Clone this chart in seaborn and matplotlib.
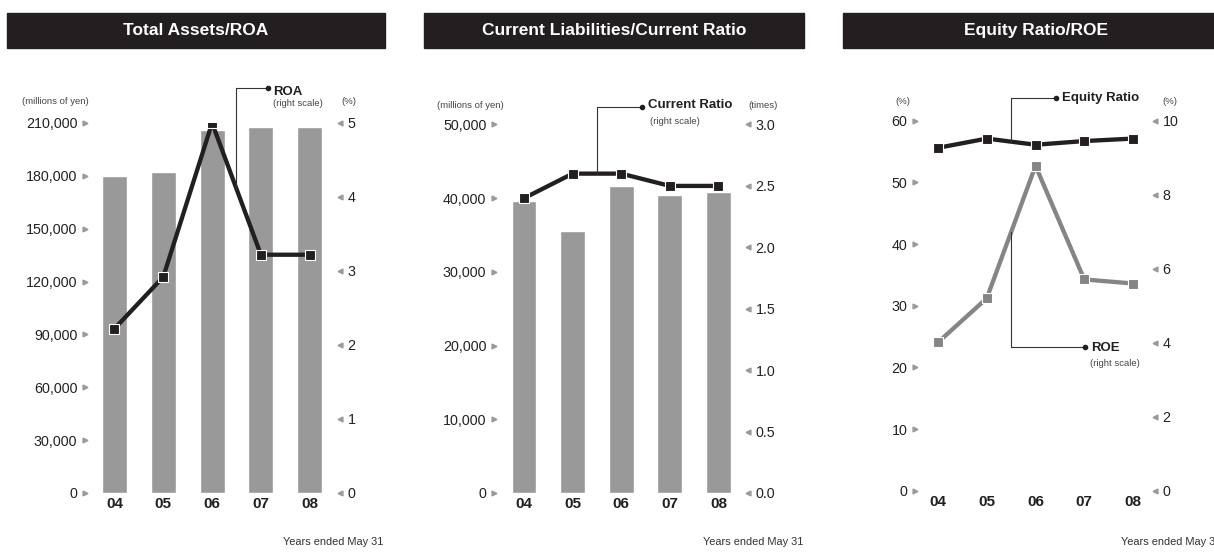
import numpy as np
import pandas as pd
import matplotlib
matplotlib.use("Agg")
import matplotlib.pyplot as plt
from matplotlib.patches import Rectangle
import seaborn as sns

years = ["04", "05", "06", "07", "08"]
total_assets = [180000, 182400, 206000, 207900, 207900]
roa = [2.22, 2.92, 5.0, 3.22, 3.22]
current_liab = [39600, 35600, 41700, 40500, 40800]
current_ratio = [2.40, 2.60, 2.60, 2.50, 2.50]
equity_ratio = [55.6, 57.1, 56.1, 56.7, 57.1]
roe = [4.01, 5.20, 8.78, 5.71, 5.60]

assets_ticks = [0, 30000, 60000, 90000, 120000, 150000, 180000, 210000]
roa_ticks = [0, 1, 2, 3, 4, 5]
liab_ticks = [0, 10000, 20000, 30000, 40000, 50000]
cr_ticks = [0.0, 0.5, 1.0, 1.5, 2.0, 2.5, 3.0]
eq_ticks = [0, 10, 20, 30, 40, 50, 60]
roe_ticks = [0, 2, 4, 6, 8, 10]

sns.set_style("white")
plt.rcParams["font.family"] = ["Liberation Sans", "DejaVu Sans"]

W, H = 1214, 552
fig = plt.figure(figsize=(W / 100, H / 100), dpi=100)

DARK = "#231f20"
BAR = "#999999"
TICKC = "#9a9a9a"
GRAY_LINE = "#858585"
SMALL = 6.8


def px_axes(left, top, right, bottom):
    return fig.add_axes([left / W, 1 - bottom / H, (right - left) / W, (bottom - top) / H])


def ftext(x, y, s, **kw):
    fig.text(x / W, 1 - y / H, s, **kw)


def header(x0, x1, title):
    fig.patches.append(Rectangle((x0 / W, 1 - 48 / H), (x1 - x0) / W, 35 / H,
                                 transform=fig.transFigure, color=DARK, zorder=0))
    ftext((x0 + x1) / 2, 30.5, title, color="white", fontsize=12.5, fontweight="bold",
          ha="center", va="center")


def style_axis(ax, ticks, labels, side):
    ax.set_yticks(ticks)
    ax.set_yticklabels(labels)
    for s in ax.spines.values():
        s.set_visible(False)
    ax.tick_params(axis="y", length=0, labelsize=10.3, colors="#222222", pad=5.5)
    ax.tick_params(axis="x", length=0)
    xpos = 0 if side == "left" else 1
    ax.plot([xpos] * len(ticks), ticks, transform=ax.get_yaxis_transform(),
            marker=">" if side == "left" else "<", ms=3.5, ls="none",
            color=TICKC, clip_on=False)


def year_labels(ax):
    ax.set_xticks(range(len(years)))
    ax.set_xticklabels(years, fontsize=11, fontweight="bold", color=DARK)
    ax.tick_params(axis="x", length=0, pad=3)
    ax.set_xlabel("")


def line(ax, vals, color, lw=3.1):
    df = pd.DataFrame({"year": years, "v": vals})
    sns.lineplot(data=df, x="year", y="v", ax=ax, color=color, lw=lw, marker="s",
                 markersize=7, markeredgecolor="white", markeredgewidth=0.8,
                 markerfacecolor=color, zorder=5)
    ax.set_ylabel("")
    ax.set_xlabel("")


def connector(ax, pts, dot):
    xs = [p[0] for p in pts]
    ys = [p[1] for p in pts]
    ax.plot(xs, ys, color="#333333", lw=0.8, clip_on=False, zorder=6)
    ax.plot([dot[0]], [dot[1]], marker="o", ms=3, color=DARK, clip_on=False, zorder=7)


# ---- Panel 1: Total Assets / ROA
header(7, 385, "Total Assets/ROA")
ax = px_axes(85, 123, 340, 493)
sns.barplot(x=years, y=total_assets, color=BAR, saturation=1, width=0.51, ax=ax)
ax.set_ylim(0, 210000)
style_axis(ax, assets_ticks, [f"{t:,}" for t in assets_ticks], "left")
ax2 = ax.twinx()
line(ax2, roa, DARK)
ax2.set_ylim(0, 5)
style_axis(ax2, roa_ticks, [str(t) for t in roa_ticks], "right")
ax.set_xlim(-0.603, 4.62)
year_labels(ax)
mid = (roa[2] + roa[3]) / 2
connector(ax2, [(2.5, mid), (2.5, 5.47), (3.14, 5.47)], (3.14, 5.47))
ftext(273, 92, "ROA", fontsize=9.5, fontweight="bold", color=DARK, va="center")
ftext(273, 103, "(right scale)", fontsize=SMALL, color="#444444", va="center")
ftext(22, 102, "(millions of yen)", fontsize=SMALL, color="#444444", va="center")
ftext(341, 102, "(%)", fontsize=SMALL, color="#444444", va="center")
ftext(383, 542, "Years ended May 31", fontsize=7.9, color="#333333", ha="right", va="center")

# ---- Panel 2: Current Liabilities / Current Ratio
header(424, 804, "Current Liabilities/Current Ratio")
ax = px_axes(494, 124.5, 748, 493)
sns.barplot(x=years, y=current_liab, color=BAR, saturation=1, width=0.51, ax=ax)
ax.set_ylim(0, 50000)
style_axis(ax, liab_ticks, [f"{t:,}" for t in liab_ticks], "left")
ax2 = ax.twinx()
line(ax2, current_ratio, DARK)
ax2.set_ylim(0, 3.0)
style_axis(ax2, cr_ticks, [f"{t:.1f}" for t in cr_ticks], "right")
ax.set_xlim(-0.617, 4.607)
year_labels(ax)
mid = (current_ratio[1] + current_ratio[2]) / 2
connector(ax2, [(1.5, mid), (1.5, 3.146), (2.42, 3.146)], (2.42, 3.146))
ftext(648, 105.5, "Current Ratio", fontsize=9.5, fontweight="bold", color=DARK, va="center")
ftext(650, 122, "(right scale)", fontsize=SMALL, color="#444444", va="center")
ftext(437, 106, "(millions of yen)", fontsize=SMALL, color="#444444", va="center")
ftext(748, 106, "(times)", fontsize=SMALL, color="#444444", va="center")
ftext(803, 542, "Years ended May 31", fontsize=7.9, color="#333333", ha="right", va="center")

# ---- Panel 3: Equity Ratio / ROE
header(843, 1230, "Equity Ratio/ROE")
ax = px_axes(915, 120.7, 1155, 490.7)
line(ax, equity_ratio, DARK)
ax.set_ylim(0, 60)
style_axis(ax, eq_ticks, [str(t) for t in eq_ticks], "left")
ax2 = ax.twinx()
line(ax2, roe, GRAY_LINE)
ax2.set_ylim(0, 10)
style_axis(ax2, roe_ticks, [str(t) for t in roe_ticks], "right")
ax.set_xlim(-0.472, 4.451)
year_labels(ax)
mid = (equity_ratio[1] + equity_ratio[2]) / 2
connector(ax, [(1.5, mid), (1.5, 63.6), (2.42, 63.6)], (2.42, 63.6))
mid = (roe[1] + roe[2]) / 2
connector(ax2, [(1.5, mid), (1.5, 3.89), (3.02, 3.89)], (3.02, 3.89))
ftext(1062, 98, "Equity Ratio", fontsize=9.5, fontweight="bold", color=DARK, va="center")
ftext(1091, 348, "ROE", fontsize=9.5, fontweight="bold", color=DARK, va="center")
ftext(1090, 363, "(right scale)", fontsize=SMALL, color="#444444", va="center")
ftext(895, 102, "(%)", fontsize=SMALL, color="#444444", va="center")
ftext(1162, 102, "(%)", fontsize=SMALL, color="#444444", va="center")
ftext(1221, 542, "Years ended May 31", fontsize=7.9, color="#333333", ha="right", va="center")

fig.savefig("out.png", dpi=100)
